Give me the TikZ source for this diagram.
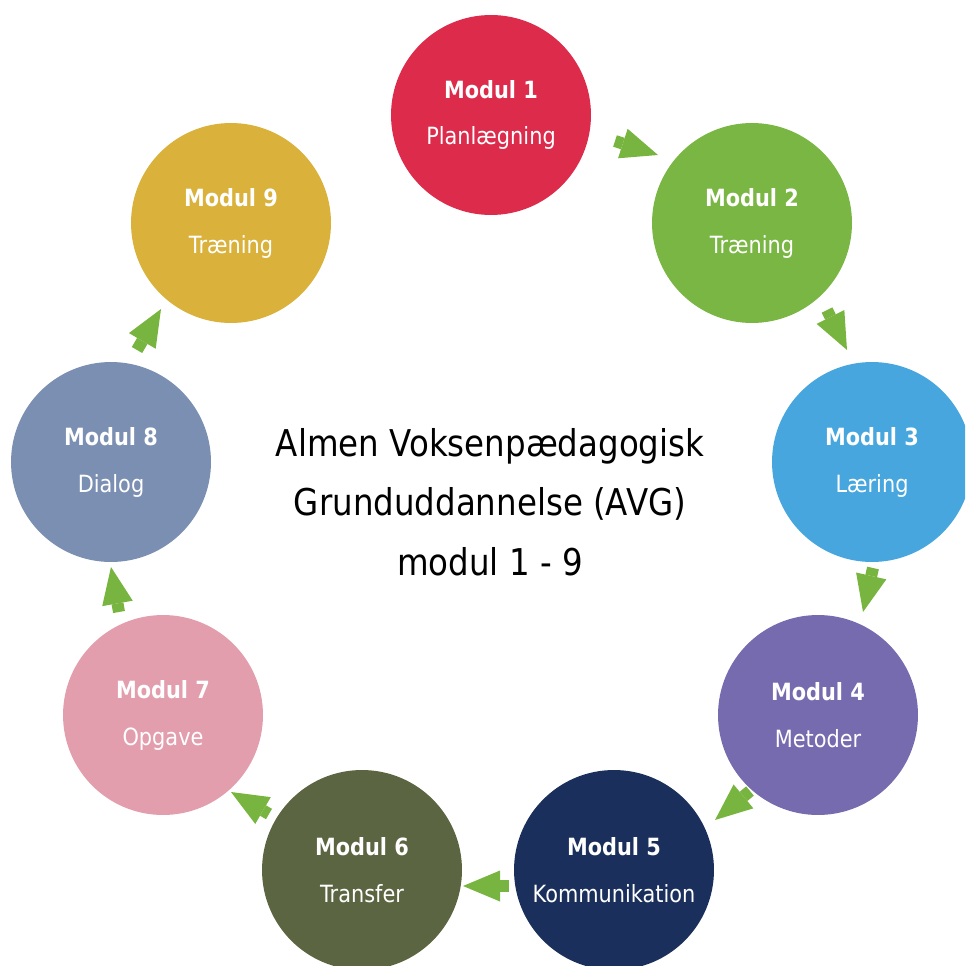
\documentclass[tikz,border=0pt]{standalone}
\usepackage{fontspec}
\setmainfont{DejaVu Sans}[FakeStretch=0.88]
\usetikzlibrary{arrows.meta}
\definecolor{rod}{HTML}{DC2B4B}
\definecolor{gron}{HTML}{7AB643}
\definecolor{bla}{HTML}{46A6DD}
\definecolor{lilla}{HTML}{776BB0}
\definecolor{navy}{HTML}{1A2F5B}
\definecolor{oliven}{HTML}{5C6541}
\definecolor{rosa}{HTML}{E39EAE}
\definecolor{graabla}{HTML}{7B8FB2}
\definecolor{sennep}{HTML}{D9B13B}
\definecolor{pilgron}{HTML}{78B540}
\begin{document}
\begin{tikzpicture}[x=0.02cm,y=-0.02cm,
		modul/.style={circle,fill=#1,minimum size=4cm,inner sep=0pt,text=white,
			align=center,font=\fontsize{13.5}{26.7}\selectfont},
		pil/.style={draw=pilgron,line width=0.24cm,
			-{Triangle[length=0.74cm,width=0.62cm,line width=0pt]}}]
			\clip (0,0) rectangle (965,966);
			% moduler
			\node[modul=rod](modul1) at (491,115) {\textbf{Modul 1}\\Planlægning};
			\node[modul=gron](modul2) at (752,223) {\textbf{Modul 2}\\Træning};
			\node[modul=bla](modul3) at (872,462) {\textbf{Modul 3}\\Læring};
			\node[modul=lilla](modul4) at (818,715) {\textbf{Modul 4}\\Metoder};
			\node[modul=navy](modul5) at (614,870) {\textbf{Modul 5}\\Kommunikation};
			\node[modul=oliven](modul6) at (362,870) {\textbf{Modul 6}\\Transfer};
			\node[modul=rosa](modul7) at (163,715) {\textbf{Modul 7}\\Opgave};
			\node[modul=graabla](modul8) at (111,462) {\textbf{Modul 8}\\Dialog};
			\node[modul=sennep](modul9) at (231,223) {\textbf{Modul 9}\\Træning};
			\node[align=center,font=\fontsize{21}{34}\selectfont](titel)
			at (490,502) {Almen Voksenpædagogisk\\Grunduddannelse (AVG)\\modul 1 - 9};
			% pile
			\coordinate (p12) at (615,141); \coordinate (q12) at (658,155);
			\coordinate (p23) at (827,310); \coordinate (q23) at (847,350);
			\coordinate (p34) at (873,568); \coordinate (q34) at (863,612);
			\coordinate (p45) at (750,791); \coordinate (q45) at (715,820);
			\coordinate (p56) at (509,886); \coordinate (q56) at (463,886);
			\coordinate (p67) at (269,814); \coordinate (q67) at (231,792);
			\coordinate (p78) at (119,612); \coordinate (q78) at (111,567);
			\coordinate (p89) at (137,350); \coordinate (q89) at (161,309);
			\draw[pil] (p12) -- (q12);
			\draw[pil] (p23) -- (q23);
			\draw[pil] (p34) -- (q34);
			\draw[pil] (p45) -- (q45);
			\draw[pil] (p56) -- (q56);
			\draw[pil] (p67) -- (q67);
			\draw[pil] (p78) -- (q78);
			\draw[pil] (p89) -- (q89);
		\end{tikzpicture}
\end{document}
